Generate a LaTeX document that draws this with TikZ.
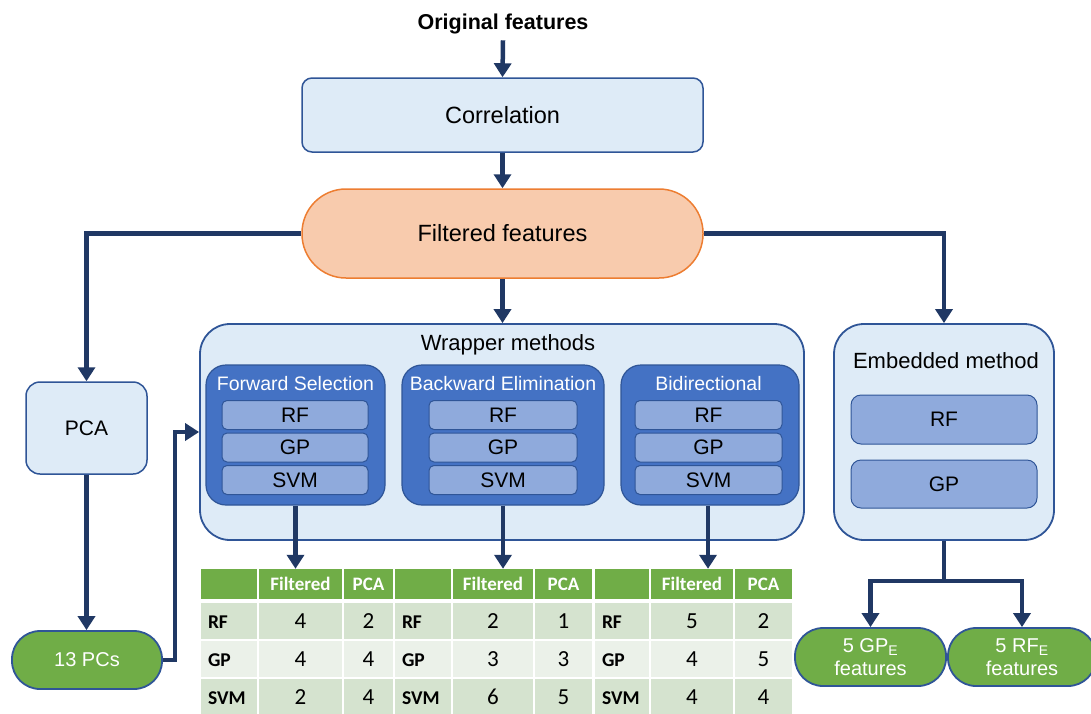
\documentclass[tikz,border=0pt]{standalone}
\usepackage{fontspec}
\setmainfont{Liberation Sans}
\newfontfamily\calfont{Carlito}
\usetikzlibrary{arrows.meta,calc}
\definecolor{navy}{HTML}{203864}
\definecolor{bordblue}{HTML}{2F5597}
\definecolor{lightblue}{HTML}{DEEBF7}
\definecolor{midblue}{HTML}{4472C4}
\definecolor{subblue}{HTML}{8FAADC}
\definecolor{peach}{HTML}{F8CBAD}
\definecolor{myorange}{HTML}{ED7D31}
\definecolor{mygreen}{HTML}{70AD47}
\definecolor{rowa}{HTML}{D5E3CF}
\definecolor{rowb}{HTML}{EBF1E9}
\newcommand\fsz[1]{\fontsize{#1pt}{1.2\dimexpr#1pt\relax}\selectfont}
\newcommand\hd[1]{{\calfont\bfseries\fsz{19}\color{white}#1}}
\newcommand\trow[7]{%
  \node[tcell, fill=#3, minimum width={(\cb-\ca-2)*1pt}, minimum height={(#2-#1)*1pt}] (#7a) at ({(\ca+\cb-2)/2},{(#1+#2)/2}) {};
  \node[tlab, anchor=west] (#7l) at ([xshift=7pt,yshift=-1pt]#7a.west) {#4};
  \node[tcell, tval, fill=#3, minimum width={(\cc-\cb-2)*1pt}, minimum height={(#2-#1)*1pt}] (#7b) at ({(\cb+\cc-2)/2},{(#1+#2)/2}) {#5};
  \node[tcell, tval, fill=#3, minimum width={(\cd-\cc)*1pt}, minimum height={(#2-#1)*1pt}] (#7c) at ({(\cc+\cd)/2},{(#1+#2)/2}) {#6};
}
\newcommand\mytab[7]{%
  \trow{569}{599}{mygreen}{}{\hd{Filtered}}{\hd{PCA}}{#1h}
  \trow{603}{639}{rowa}{RF}{#2}{#3}{#1r}
  \trow{641}{677}{rowb}{GP}{#4}{#5}{#1g}
  \trow{679}{715}{rowa}{SVM}{#6}{#7}{#1s}
}
\begin{document}
\begin{tikzpicture}[x=1pt,y=-1pt,
  box/.style={draw=bordblue, line width=1.5pt, fill=lightblue, rounded corners=10pt, inner sep=0pt, font=\fsz{21}},
  grp/.style={draw=bordblue, line width=1.2pt, fill=midblue, rounded corners=20pt, inner sep=0pt},
  grptitle/.style={text=white, font=\fsz{19.5}, inner sep=0pt},
  sub/.style={draw=bordblue, line width=1pt, fill=subblue, rounded corners=5pt, inner sep=0pt, font=\fsz{21}},
  pill/.style={draw=bordblue, line width=1.8pt, fill=mygreen, rounded corners=28pt, inner sep=0pt, text=white, font=\fsz{20}, align=center},
  conn/.style={draw=navy, line width=4.5pt},
  arr/.style={conn, -{Triangle[width=17pt,length=14pt]}},
  tcell/.style={inner sep=0pt, draw=none},
  tval/.style={font=\calfont\fsz{23}},
  tlab/.style={inner sep=0pt, font=\calfont\bfseries\fsz{19.5}},
]
\useasboundingbox (0,0) rectangle (1091,713);

% top chain
\node[font=\bfseries\fsz{21.5}, inner sep=0pt] (orig) at (503,24) {Original features};
\node[box, minimum width=401pt, minimum height=74pt, font=\fsz{23.5}] (corr) at (502.5,115) {Correlation};
\node[draw=myorange, fill=peach, line width=1.5pt, rounded corners=44pt, minimum width=401pt, minimum height=89pt, font=\fsz{23.5}] (filt) at (502.5,233.5) {Filtered features};

% wrapper
\node[box, rounded corners=30pt, line width=1.8pt, minimum width=604pt, minimum height=216pt] (wrap) at (502,432) {};
\node[font=\fsz{22}, inner sep=0pt] (wrapt) at (508,345) {Wrapper methods};

\node[grp, minimum width=179pt, minimum height=140pt] (fs) at (295.5,435) {};
\node[grptitle] (fst) at (295.5,384) {Forward Selection};
\node[sub, minimum width=146pt, minimum height=29pt] (fsrf) at (295,415) {RF};
\node[sub, minimum width=146pt, minimum height=29pt] (fsgp) at (295,447.5) {GP};
\node[sub, minimum width=146pt, minimum height=29pt] (fssvm) at (295,480) {SVM};

\node[grp, minimum width=202pt, minimum height=140pt] (be) at (503,435) {};
\node[grptitle] (bet) at (503,384) {Backward Elimination};
\node[sub, minimum width=148pt, minimum height=29pt] (berf) at (503,415) {RF};
\node[sub, minimum width=148pt, minimum height=29pt] (begp) at (503,447.5) {GP};
\node[sub, minimum width=148pt, minimum height=29pt] (besvm) at (503,480) {SVM};

\node[grp, minimum width=178pt, minimum height=140pt] (bi) at (710,435) {};
\node[grptitle] (bit) at (708.5,384) {Bidirectional};
\node[sub, minimum width=147pt, minimum height=29pt] (birf) at (708.5,415) {RF};
\node[sub, minimum width=147pt, minimum height=29pt] (bigp) at (708.5,447.5) {GP};
\node[sub, minimum width=147pt, minimum height=29pt] (bisvm) at (708.5,480) {SVM};

% embedded
\node[box, rounded corners=30pt, line width=1.8pt, minimum width=220pt, minimum height=216pt] (emb) at (944,432) {};
\node[font=\fsz{22}, inner sep=0pt] (embt) at (946,361) {Embedded method};
\node[sub, rounded corners=10pt, minimum width=186pt, minimum height=49pt] (embrf) at (944,419.5) {RF};
\node[sub, rounded corners=10pt, minimum width=186pt, minimum height=48pt] (embgp) at (944,484) {GP};

% PCA
\node[box, rounded corners=14pt, minimum width=121pt, minimum height=92pt] (pca) at (86.5,428) {PCA};
\node[pill, minimum width=150pt, minimum height=58pt] (pcs) at (87,660) {13 PCs};

% outputs of embedded
\node[pill, minimum width=151pt, minimum height=58pt] (gpe) at (870.5,657) {5 GP\textsubscript{E}\\[-1pt]features};
\node[pill, minimum width=148pt, minimum height=58pt] (rfe) at (1022,657) {5 RF\textsubscript{E}\\[-1pt]features};

% tables
\def\ca{201}\def\cb{259}\def\cc{344}\def\cd{393}
\mytab{ta}{4}{2}{4}{4}{2}{4}
\def\ca{395}\def\cb{453}\def\cc{535}\def\cd{592}
\mytab{tb}{2}{1}{3}{3}{6}{5}
\def\ca{595}\def\cb{651}\def\cc{735}\def\cd{792}
\mytab{tc}{5}{2}{4}{5}{4}{4}

% connectors
\draw[arr] ([yshift=-6pt]orig.south) -- (corr.north);
\draw[arr] (corr.south) -- (filt.north);
\draw[arr] (filt.south) -- (filt.south |- wrap.north);
\draw[arr] (filt.west) -| (pca.north);
\draw[arr] (filt.east) -| (emb.north);
\draw[arr] (pca.south) -- (pca.south |- pcs.north);
\draw[arr] (pcs.east) -- ([xshift=12pt]pcs.east) |- (wrap.west);
\draw[arr] (fs.south) -- (fs.south |- tahb.north);
\draw[arr] (be.south) -- (be.south |- tbhb.north);
\draw[arr] ([xshift=-2pt]bi.south) -- ([xshift=-2pt]bi.south |- tchb.north);
\coordinate (split) at ($(emb.south)+(0,40)$);
\draw[conn] (emb.south) -- (split);
\draw[arr] (split) -| (gpe.north);
\draw[arr] (split) -| (rfe.north);
\end{tikzpicture}
\end{document}
